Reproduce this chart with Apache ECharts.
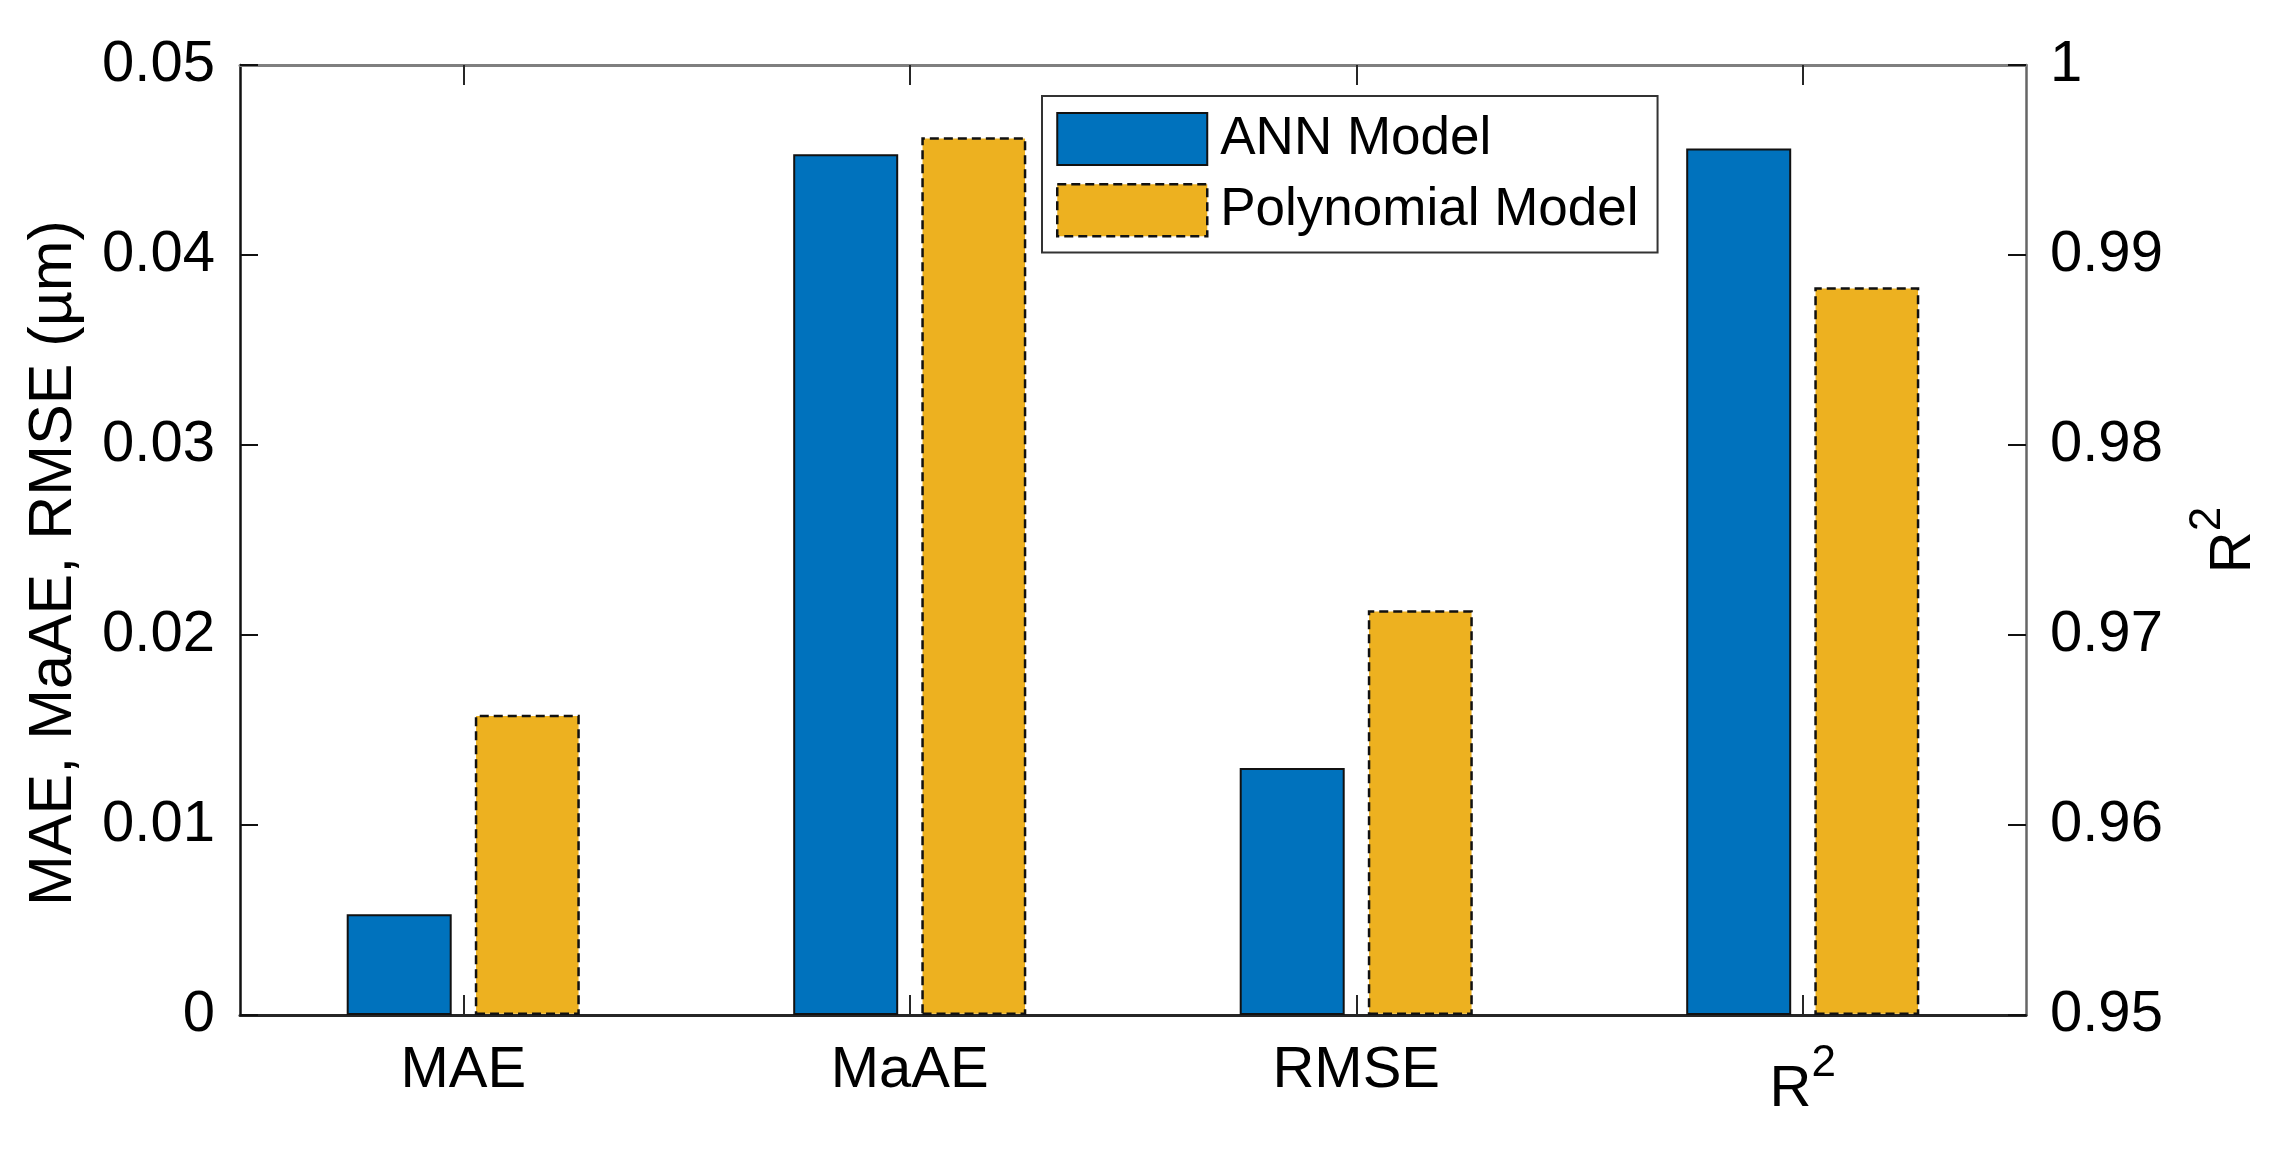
<!DOCTYPE html>
<html>
<head>
<meta charset="utf-8">
<script src="https://cdn.jsdelivr.net/npm/echarts@6/dist/echarts.min.js"></script>
<style>
html,body{margin:0;padding:0;background:#fff;}
#chart{width:2281px;height:1157px;}
</style>
</head>
<body>
<div id="chart"></div>
<script>
// ---- data ----
const categories = ['MAE', 'MaAE', 'RMSE', 'R²'];
const seriesNames = ['ANN Model', 'Polynomial Model'];
const annErrors = [0.0053, 0.0453, 0.0130];      // µm, left axis
const polyErrors = [0.0158, 0.0462, 0.0213];     // µm, left axis
const annR2 = [0.9956];                          // right axis
const polyR2 = [0.9883];                         // right axis
const leftTicks = [0, 0.01, 0.02, 0.03, 0.04, 0.05];
const rightTicks = [0.95, 0.96, 0.97, 0.98, 0.99, 1];

const FONT = 'Liberation Sans, Arial, Helvetica, sans-serif';
const BLUE = '#0072BD', GOLD = '#EDB120';

const leftData = (arr) => categories.map((c, i) => i < arr.length ? arr[i] : '-');
const rightData = (arr) => categories.map((c, i) => i === categories.length - 1 ? arr[0] : '-');

const annStyle = {color: BLUE, borderColor: '#111', borderWidth: 2};
const polyStyle = {color: GOLD, borderColor: '#111', borderWidth: 2.5, borderType: [9, 5]};

const fmt = (v) => String(+(+v).toFixed(2));

const chart = echarts.init(document.getElementById('chart'), null, {renderer: 'canvas'});
chart.setOption({
  backgroundColor: '#fff',
  animation: false,
  textStyle: {fontFamily: FONT, color: '#000'},
  grid: {left: 240, right: 255, top: 65, bottom: 142, containLabel: false},
  legend: {
    orient: 'vertical',
    left: 1042, top: 96,
    padding: [16, 19, 15, 14],
    itemWidth: 150, itemHeight: 52, itemGap: 17,
    icon: 'rect',
    backgroundColor: '#fff',
    borderColor: '#333', borderWidth: 2,
    textStyle: {fontSize: 53, color: '#000', fontFamily: FONT, padding: [0, 0, 0, 8]},
    data: [
      {name: seriesNames[0], itemStyle: annStyle},
      {name: seriesNames[1], itemStyle: polyStyle}
    ]
  },
  xAxis: [
    {
      type: 'category', data: categories, position: 'bottom', gridIndex: 0,
      axisLine: {show: true, lineStyle: {color: '#262626', width: 3}},
      axisTick: {show: true, inside: true, length: 20, alignWithLabel: true, lineStyle: {color: '#262626', width: 2}},
      axisLabel: {
        margin: 27, fontSize: 58, color: '#000', fontFamily: FONT,
        formatter: (v) => v === 'R²' ? '{r|R}{s|2}' : v,
        rich: {
          r: {fontSize: 58, lineHeight: 96, fontFamily: FONT, color: '#000'},
          s: {fontSize: 44, lineHeight: 46, verticalAlign: 'top', fontFamily: FONT, color: '#000'}
        }
      },
      splitLine: {show: false}
    },
    {
      type: 'category', data: categories, position: 'top', gridIndex: 0,
      axisLine: {show: true, lineStyle: {color: '#7f7f7f', width: 3}},
      axisTick: {show: true, inside: true, length: 20, alignWithLabel: true, lineStyle: {color: '#262626', width: 2}},
      axisLabel: {show: false},
      splitLine: {show: false}
    }
  ],
  yAxis: [
    {
      type: 'value', position: 'left', min: 0, max: 0.05, interval: 0.01,
      name: 'MAE, MaAE, RMSE (µm)', nameLocation: 'middle', nameRotate: 90, nameGap: 155,
      nameTextStyle: {fontSize: 61, color: '#000', fontFamily: FONT, padding: [0, 46, 0, 0]},
      axisLine: {show: true, lineStyle: {color: '#111', width: 2.5}},
      axisTick: {show: true, inside: true, length: 18, lineStyle: {color: '#111', width: 2}},
      axisLabel: {fontSize: 58, color: '#000', margin: 25, fontFamily: FONT, formatter: fmt},
      splitLine: {show: false}
    },
    {
      type: 'value', position: 'right', min: 0.95, max: 1, interval: 0.01, startValue: 0.95,
      name: '{r|R}{s|2}', nameLocation: 'middle', nameRotate: 90, nameGap: 160,
      nameTextStyle: {
        fontSize: 58, color: '#000', fontFamily: FONT,
        rich: {
          r: {fontSize: 58, lineHeight: 96, fontFamily: FONT, color: '#000'},
          s: {fontSize: 44, lineHeight: 46, verticalAlign: 'top', fontFamily: FONT, color: '#000'}
        }
      },
      axisLine: {show: true, lineStyle: {color: '#666', width: 2.5}},
      axisTick: {show: true, inside: true, length: 18, lineStyle: {color: '#111', width: 2}},
      axisLabel: {fontSize: 58, color: '#000', margin: 24, fontFamily: FONT, formatter: fmt},
      splitLine: {show: false}
    }
  ],
  series: [
    {name: seriesNames[0], type: 'bar', xAxisIndex: 0, yAxisIndex: 0, data: leftData(annErrors),
     barWidth: 105, barGap: '22%', itemStyle: annStyle, clip: true},
    {name: seriesNames[1], type: 'bar', xAxisIndex: 0, yAxisIndex: 0, data: leftData(polyErrors),
     barWidth: 105, barGap: '22%', itemStyle: polyStyle, clip: true},
    {name: seriesNames[0], type: 'bar', xAxisIndex: 1, yAxisIndex: 1, data: rightData(annR2),
     barWidth: 105, barGap: '22%', itemStyle: annStyle, clip: true},
    {name: seriesNames[1], type: 'bar', xAxisIndex: 1, yAxisIndex: 1, data: rightData(polyR2),
     barWidth: 105, barGap: '22%', itemStyle: polyStyle, clip: true}
  ]
});
</script>
</body>
</html>
